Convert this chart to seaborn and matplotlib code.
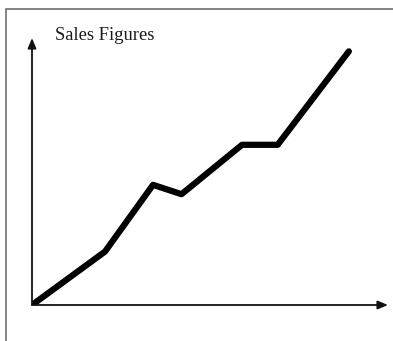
import matplotlib
matplotlib.use("Agg")
import matplotlib.pyplot as plt
from matplotlib.patches import Rectangle
import seaborn as sns
import pandas as pd

# Data (abstract units)
period = [0.0, 2.05, 3.4, 4.2, 5.9, 6.9, 8.9]
sales = [0.0, 2.0, 4.5, 4.15, 6.0, 6.0, 9.5]
title = "Sales Figures"

df = pd.DataFrame({"period": period, "sales": sales})

sns.set_style("white")
fig = plt.figure(figsize=(3.93, 3.41), dpi=100)
W, H = 393, 341
ax = fig.add_axes([32 / W, 36 / H, 356 / W, 267 / H])
sns.lineplot(data=df, x="period", y="sales", ax=ax, color="black",
             linewidth=4.5, solid_capstyle="round", sort=False)
ax.set_xlim(0, 10)
ax.set_ylim(0, 10)
ax.set_xticks([])
ax.set_yticks([])
ax.set_xlabel("")
ax.set_ylabel("")
for s in ax.spines.values():
    s.set_visible(False)

arrow = dict(arrowstyle="-|>,head_length=0.6,head_width=0.25", color="#111111",
             lw=1.3, shrinkA=0, shrinkB=0)
ax.annotate("", xy=(1.0, 0), xytext=(0, 0), xycoords="axes fraction",
            textcoords="axes fraction", arrowprops=arrow, annotation_clip=False)
ax.annotate("", xy=(0, 1.0), xytext=(0, 0), xycoords="axes fraction",
            textcoords="axes fraction", arrowprops=arrow, annotation_clip=False)

fig.add_artist(Rectangle((6 / W, -0.1), 1.2, (H - 9) / H + 0.1,
                         transform=fig.transFigure, fill=False,
                         edgecolor="#6f6f6f", linewidth=1.2))

fig.text(55 / W, 1 - 36 / H, title, fontfamily="Liberation Serif",
         fontsize=13.3, va="center", ha="left", color="#1a1a1a")

fig.savefig("out.png", dpi=100)
